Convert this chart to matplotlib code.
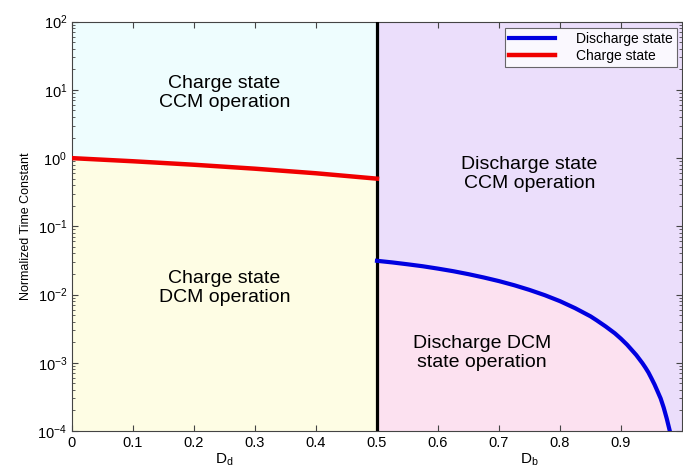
import matplotlib
matplotlib.use("Agg")
import matplotlib.pyplot as plt
import matplotlib.transforms as mtransforms
from matplotlib.ticker import LogLocator, FixedLocator

plt.rcParams['font.family'] = ['Liberation Sans', 'DejaVu Sans']
plt.rcParams['mathtext.fontset'] = 'custom'
plt.rcParams['mathtext.rm'] = 'Liberation Sans'
plt.rcParams['mathtext.it'] = 'Liberation Sans:italic'

# Data
charge_d = [0.0, 0.1, 0.2, 0.3, 0.4, 0.5]
charge_tau = [1.0, 0.9, 0.8, 0.7, 0.6, 0.5]
discharge_d = [0.5, 0.525, 0.55, 0.575, 0.6, 0.625, 0.65, 0.675, 0.7, 0.725, 0.75, 0.775, 0.8,
               0.825, 0.85, 0.86, 0.875, 0.89, 0.9, 0.91, 0.925, 0.935, 0.94, 0.945, 0.95,
               0.955, 0.96, 0.965, 0.97, 0.975, 0.98]
discharge_tau = [0.03125, 0.0296, 0.0278, 0.0260, 0.0240, 0.0220, 0.0199, 0.0178, 0.01575,
                 0.0137, 0.0117, 0.0098, 0.0080, 0.0063, 0.0048, 0.0042, 0.0034, 0.0027,
                 0.00225, 0.00184, 0.0013, 0.00099, 0.00085, 0.00072, 0.00059, 0.00048,
                 0.00038, 0.0003, 0.00022, 0.000152, 0.0001]
x_ticks = [0, 0.1, 0.2, 0.3, 0.4, 0.5, 0.6, 0.7, 0.8, 0.9]
x_ticklabels = ['0', '0.1', '0.2', '0.3', '0.4', '0.5', '0.6', '0.7', '0.8', '0.9']
y_ticks = [1e-4, 1e-3, 1e-2, 1e-1, 1e0, 1e1, 1e2]
y_ticklabels = [r'$10^{-4}$', r'$10^{-3}$', r'$10^{-2}$', r'$10^{-1}$', r'$10^{0}$', r'$10^{1}$', r'$10^{2}$']
ymin, ymax = 1e-4, 1e2
boundary = 0.5

fig = plt.figure(figsize=(6.83, 4.72), dpi=100)
ax = fig.add_axes([72/683, 1-431/472, 610/683, (431-21.7)/472])
ax.set_yscale('log')
ax.set_xlim(0, 1)
ax.set_ylim(ymin, ymax)

# Regions
ax.fill_between(charge_d, charge_tau, ymax, color='#EEFDFE', lw=0)
ax.fill_between(charge_d, ymin, charge_tau, color='#FEFDE4', lw=0)
ax.fill_between([boundary, 1.0], ymin, ymax, color='#EBDEFB', lw=0)
ax.fill_between(discharge_d, ymin, discharge_tau, color='#FCE1F0', lw=0)

ax.axvline(boundary, color='black', lw=2.3, zorder=3)
ax.plot(discharge_d, discharge_tau, color='#0000E0', lw=3, label='Discharge state', zorder=4,
        solid_joinstyle='round')
ax.plot(charge_d, charge_tau, color='#F00000', lw=3.2, label='Charge state', zorder=4)

# Ticks
ax.xaxis.set_major_locator(FixedLocator(x_ticks))
ax.set_xticklabels(x_ticklabels)
ax.yaxis.set_major_locator(FixedLocator(y_ticks))
ax.set_yticklabels(y_ticklabels)
ax.yaxis.set_minor_locator(LogLocator(base=10, subs=range(2, 10)))
ax.tick_params(which='both', direction='in', top=True, right=True, labelsize=10.5, color='#444444')
ax.tick_params(which='major', length=4)
ax.tick_params(which='minor', length=2)
for s in ax.spines.values():
    s.set_color('#444444')
    s.set_linewidth(0.8)

ax.set_ylabel('Normalized Time Constant', fontsize=9)

trans = mtransforms.blended_transform_factory(ax.transData, fig.transFigure)
ax.text(0.25, 1-460/472, r'D$_{\rm d}$', transform=trans, ha='center', va='center', fontsize=11)
ax.text(0.75, 1-460/472, r'D$_{\rm b}$', transform=trans, ha='center', va='center', fontsize=11)

tkw = dict(ha='center', va='center', fontsize=14, linespacing=1.1, zorder=5)
ax.text(0.25, 10**(-4 + (431-93)/68.2), 'Charge state\nCCM operation', **tkw)
ax.text(0.25, 10**(-4 + (431-288)/68.2), 'Charge state\nDCM operation', **tkw)
ax.text(0.75, 10**(-4 + (431-174)/68.2), 'Discharge state\nCCM operation', **tkw)
ax.text((482-72)/610, 10**(-4 + (431-353)/68.2), 'Discharge DCM\nstate operation', **tkw)

leg = ax.legend(loc='upper right', bbox_to_anchor=(677/683, 1-28/472), bbox_transform=fig.transFigure,
                fontsize=10, frameon=True, fancybox=False, handlelength=3.3, borderpad=0.3,
                labelspacing=0.2, handletextpad=1.5, borderaxespad=0)
leg.get_frame().set_edgecolor('#444444')
leg.get_frame().set_linewidth(0.8)

fig.savefig('out.png', dpi=100)
